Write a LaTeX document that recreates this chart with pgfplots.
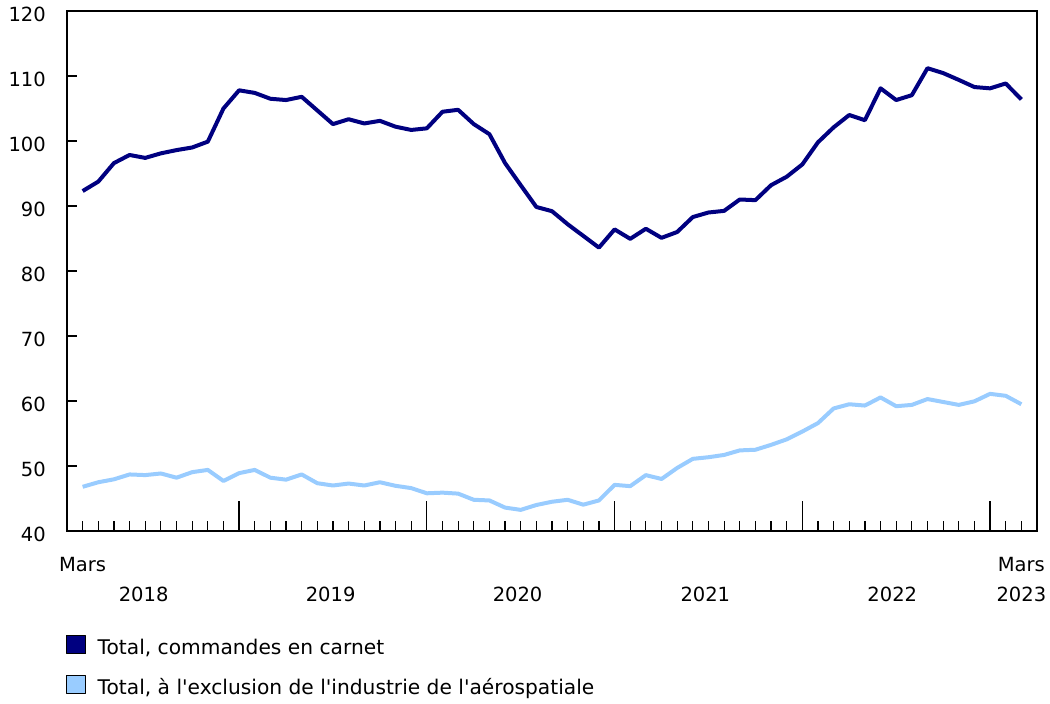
\documentclass[border=0pt]{standalone}
\usepackage{pgfplots}
\pgfplotsset{compat=1.18}
\usepackage{pgfplotstable}
\usepackage{fontspec}
\setmainfont{DejaVu Sans}
\definecolor{darkser}{RGB}{0,0,128}
\definecolor{lightser}{RGB}{153,204,255}

\pgfplotstableread{
k v
0 92.3
1 93.75
2 96.6
3 97.85
4 97.4
5 98.1
6 98.6
7 99.0
8 99.9
9 105.0
10 107.8
11 107.4
12 106.5
13 106.3
14 106.8
15 104.7
16 102.6
17 103.35
18 102.7
19 103.1
20 102.2
21 101.7
22 101.95
23 104.5
24 104.8
25 102.6
26 101.05
27 96.6
28 93.2
29 89.85
30 89.2
31 87.2
32 85.4
33 83.6
34 86.4
35 84.95
36 86.5
37 85.1
38 86.0
39 88.3
40 89.0
41 89.25
42 91.0
43 90.9
44 93.2
45 94.5
46 96.4
47 99.8
48 102.1
49 104.0
50 103.2
51 108.1
52 106.3
53 107.05
54 111.2
55 110.45
56 109.4
57 108.3
58 108.1
59 108.85
60 106.4
}\tabA

\pgfplotstableread{
k v
0 46.8
1 47.5
2 47.95
3 48.7
4 48.6
5 48.85
6 48.2
7 49.05
8 49.4
9 47.7
10 48.9
11 49.4
12 48.2
13 47.9
14 48.7
15 47.35
16 47.0
17 47.3
18 47.0
19 47.5
20 46.95
21 46.6
22 45.8
23 45.9
24 45.75
25 44.8
26 44.7
27 43.6
28 43.25
29 44.0
30 44.5
31 44.8
32 44.05
33 44.7
34 47.1
35 46.9
36 48.6
37 48.0
38 49.7
39 51.1
40 51.35
41 51.7
42 52.4
43 52.5
44 53.25
45 54.1
46 55.3
47 56.6
48 58.85
49 59.5
50 59.3
51 60.55
52 59.2
53 59.4
54 60.3
55 59.85
56 59.4
57 59.95
58 61.1
59 60.8
60 59.5
}\tabB

\begin{document}
\begin{tikzpicture}[font=\fontsize{19.5}{23}\selectfont]
\useasboundingbox (-67pt,-173pt) rectangle (983pt,531pt);
\begin{axis}[
  at={(0pt,0pt)}, anchor=south west,
  scale only axis, width=970pt, height=520pt,
  xmin=-1, xmax=61, ymin=40, ymax=120,
  clip=false,
  axis line style={line width=1.2pt},
  every tick/.style={black, line width=1.2pt},
  ytick={40,50,...,120},
  xtick={0,...,60},
  xticklabels={},
  extra x ticks={10,22,34,46,58},
  extra x tick labels={},
  extra x tick style={major tick length=30pt, tick style={black, line width=1.2pt}},
  major tick length=10pt,
  tick align=inside,
  xtick pos=bottom, ytick pos=left,
  /pgf/number format/assume math mode=true,
  yticklabel style={anchor=east, inner sep=0pt, xshift=-21pt, yshift=-3.5pt},
  legend style={at={(0,0)}, anchor=north west, xshift=-1pt, yshift=-104pt,
    draw=none, fill=none, inner sep=0pt, row sep=17pt,
    font=\fontsize{20.2}{24}\selectfont},
  legend cell align=left,
]
\addplot[darkser, line width=4pt, line join=round,
  legend image code/.code={\path[draw=none] (0pt,0pt) -- (29pt,0pt);\draw[fill=darkser, draw=black, line width=1pt] (0pt,-6pt) rectangle (19pt,12pt);}]
  table[x=k, y=v] {\tabA};
\addlegendentry{Total, commandes en carnet}
\addplot[lightser, line width=4pt, line join=round,
  legend image code/.code={\path[draw=none] (0pt,0pt) -- (29pt,0pt);\draw[fill=lightser, draw=black, line width=1pt] (0pt,-6pt) rectangle (19pt,12pt);}]
  table[x=k, y=v] {\tabB};
\addlegendentry{Total, à l\textquotesingle exclusion de l\textquotesingle industrie de l\textquotesingle aérospatiale}
\node[anchor=base] at (axis cs:0,40) [yshift=-40.7pt] {Mars};
\node[anchor=base] at (axis cs:60,40) [yshift=-40.7pt] {Mars};
\node[anchor=base] at (axis cs:3.9,40) [yshift=-70.7pt] {2018};
\node[anchor=base] at (axis cs:15.85,40) [yshift=-70.7pt] {2019};
\node[anchor=base] at (axis cs:27.8,40) [yshift=-70.7pt] {2020};
\node[anchor=base] at (axis cs:39.8,40) [yshift=-70.7pt] {2021};
\node[anchor=base] at (axis cs:51.75,40) [yshift=-70.7pt] {2022};
\node[anchor=base] at (axis cs:60,40) [yshift=-70.7pt] {2023};
\end{axis}
\end{tikzpicture}
\end{document}
